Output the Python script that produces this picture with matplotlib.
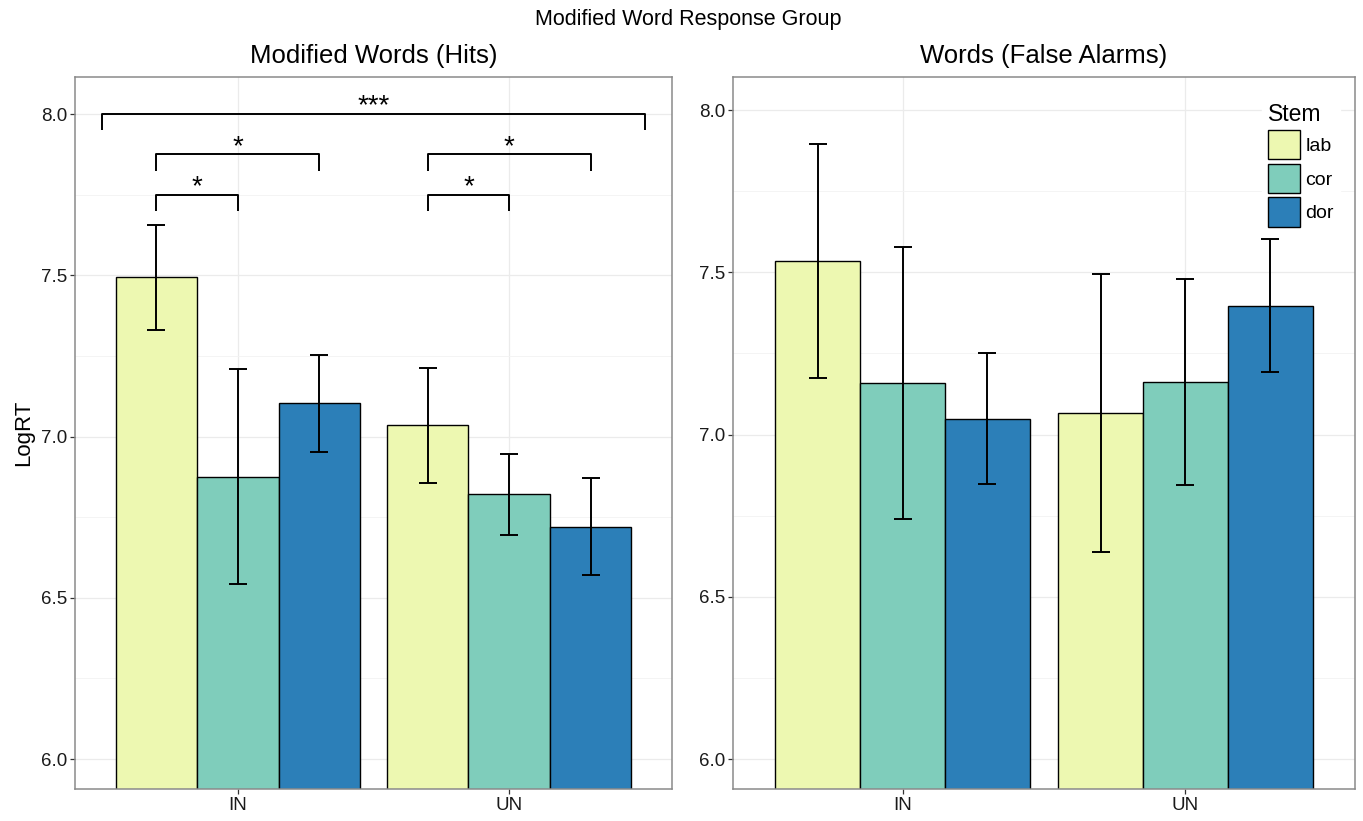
import matplotlib
matplotlib.use('Agg')
import numpy as np
import matplotlib.pyplot as plt
from matplotlib.patches import Patch

plt.rcParams['font.family'] = ['Liberation Sans', 'DejaVu Sans']

# Data
GROUPS = ['IN', 'UN']
STEMS = ['lab', 'cor', 'dor']
COLORS = ['#EDF8B1', '#7FCDBB', '#2C7FB8']

# Modified Words (Hits): rows = stem (lab, cor, dor), cols = group (IN, UN)
hits_mean = [[7.494, 7.035], [6.876, 6.821], [7.104, 6.720]]
hits_low = [[7.330, 6.855], [6.542, 6.696], [6.953, 6.570]]
hits_high = [[7.656, 7.213], [7.211, 6.946], [7.254, 6.873]]

# Words (False Alarms)
fa_mean = [[7.536, 7.067], [7.160, 7.163], [7.047, 7.396]]
fa_low = [[7.173, 6.638], [6.741, 6.844], [6.847, 7.192]]
fa_high = [[7.897, 7.495], [7.579, 7.481], [7.250, 7.602]]

# significance brackets on the hits panel: x from, x to, height, label
bracket_x1 = [0.5, 0.7, 1.7, 0.7, 1.7]
bracket_x2 = [2.5, 1.3, 2.3, 1.0, 2.0]
bracket_y = [8.0, 7.875, 7.875, 7.75, 7.75]
bracket_lab = ['***', '*', '*', '*', '*']

Y_TICKS = [6.0, 6.5, 7.0, 7.5, 8.0]
Y_MINOR = [6.25, 6.75, 7.25, 7.75]

W, H = 1363, 821
BAR_W = 0.3


def style_axes(ax, ylim):
    ax.set_xlim(0.4, 2.6)
    ax.set_ylim(*ylim)
    ax.set_xticks([1, 2])
    ax.set_xticklabels(GROUPS)
    ax.set_yticks(Y_TICKS)
    ax.set_yticklabels([f'{v:.1f}' for v in Y_TICKS])
    ax.set_yticks(Y_MINOR, minor=True)
    ax.tick_params(axis='both', which='major', length=3.6, width=0.9,
                   color='#333333', labelcolor='#1a1a1a', labelsize=13.5, pad=2)
    ax.tick_params(axis='y', which='minor', length=0)
    ax.grid(True, which='major', color='#EBEBEB', linewidth=0.9)
    ax.grid(True, which='minor', axis='y', color='#F3F3F3', linewidth=0.6)
    ax.set_axisbelow(True)
    for sp in ax.spines.values():
        sp.set_color('#8a8a8a')
        sp.set_linewidth(1.1)


def draw_bars(ax, mean, low, high):
    x = np.arange(1, len(GROUPS) + 1)
    for i, stem in enumerate(STEMS):
        xs = x + (i - 1) * BAR_W
        m = np.array(mean[i])
        ax.bar(xs, m, width=BAR_W, color=COLORS[i], edgecolor='black',
               linewidth=1.0, label=stem, zorder=2)
        yerr = [m - np.array(low[i]), np.array(high[i]) - m]
        ax.errorbar(xs, m, yerr=yerr, fmt='none', ecolor='black',
                    elinewidth=1.4, capsize=6.5, capthick=1.4, zorder=3)


fig = plt.figure(figsize=(W / 100, H / 100), dpi=100)
ax1 = fig.add_axes([75 / W, 1 - 789 / H, 597 / W, 712 / H])
ax2 = fig.add_axes([733 / W, 1 - 789 / H, 622 / W, 712 / H])

draw_bars(ax1, hits_mean, hits_low, hits_high)
draw_bars(ax2, fa_mean, fa_low, fa_high)
style_axes(ax1, (5.907, 8.115))
style_axes(ax2, (5.908, 8.102))

# brackets with stars
drop = 0.05
for x1, x2, y, lab in zip(bracket_x1, bracket_x2, bracket_y, bracket_lab):
    ax1.plot([x1, x1, x2, x2], [y - drop, y, y, y - drop], color='black',
             linewidth=1.4, solid_capstyle='butt', zorder=4)
    ax1.text((x1 + x2) / 2, y + 0.002, lab, ha='center', va='baseline',
             fontsize=20, zorder=4)

ax1.set_title('Modified Words (Hits)', fontsize=18.5, pad=10)
ax2.set_title('Words (False Alarms)', fontsize=18.5, pad=10)
ax1.set_ylabel('LogRT', fontsize=16)
ax1.yaxis.set_label_coords(-0.068, 0.5)

fig.text(0.505, 1 - 19 / H, 'Modified Word Response Group', ha='center',
         va='center', fontsize=15.5)

handles = [Patch(facecolor=c, edgecolor='black', linewidth=1.0) for c in COLORS]
leg = ax2.legend(handles, STEMS, title='Stem', loc='upper left',
                 bbox_to_anchor=(0.85, 0.972), fontsize=14, title_fontsize=16.5,
                 handlelength=1.65, handleheight=1.95, handletextpad=0.3,
                 labelspacing=0.22, borderpad=0.3, borderaxespad=0,
                 frameon=True, fancybox=False, alignment='left')
leg.get_frame().set_facecolor('white')
leg.get_frame().set_edgecolor('white')
leg.get_frame().set_alpha(1)

plt.savefig('out.png', dpi=100)
plt.close()
